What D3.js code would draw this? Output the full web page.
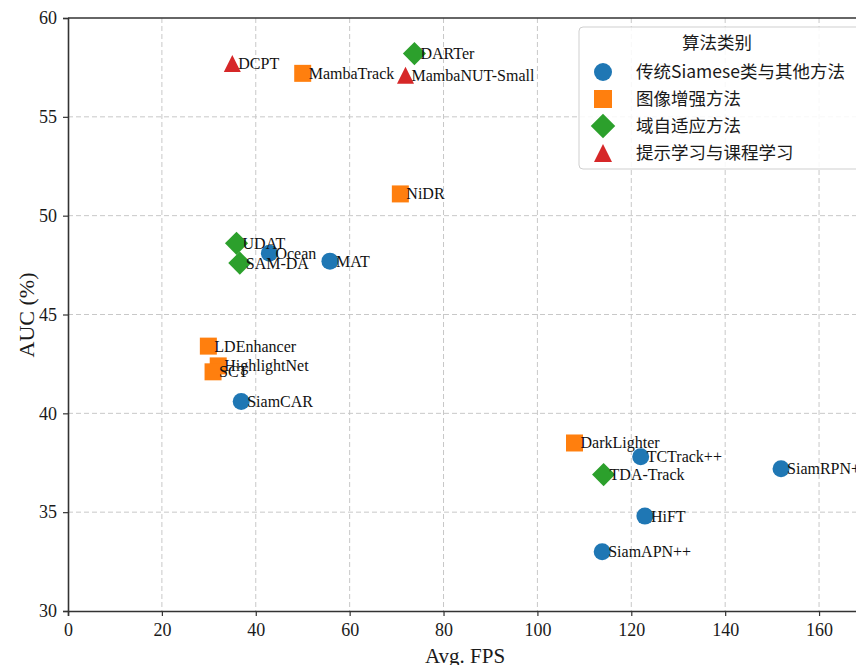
<!DOCTYPE html>
<html>
<head>
<meta charset="utf-8">
<script src="https://cdn.jsdelivr.net/npm/d3@7"></script>
<style>
  html, body { margin: 0; padding: 0; background: #fff; }
  svg { display: block; }
</style>
</head>
<body>
<div id="chart"></div>
<script>
// Tracker speed vs. accuracy, grouped by method family
const categories = ["传统Siamese类与其他方法", "图像增强方法", "域自适应方法", "提示学习与课程学习"];
const methodNames = ["DCPT", "MambaTrack", "DARTer", "MambaNUT-Small", "NiDR", "UDAT", "Ocean", "SAM-DA", "MAT",
  "LDEnhancer", "HighlightNet", "SCT", "SiamCAR", "DarkLighter", "TCTrack++", "TDA-Track", "SiamRPN++", "HiFT", "SiamAPN++"];
const methodGroup = [3, 1, 2, 3, 1, 2, 0, 2, 0, 1, 1, 1, 0, 1, 0, 2, 0, 0, 0];
const fpsValues = [35, 50, 73.8, 71.9, 70.8, 35.9, 42.9, 36.6, 55.8, 29.9, 32, 30.9, 36.9, 107.9, 122, 114.1, 151.9, 122.9, 113.8];
const aucValues = [57.7, 57.2, 58.2, 57.1, 51.1, 48.6, 48.1, 47.6, 47.7, 43.4, 42.4, 42.1, 40.6, 38.5, 37.8, 36.9, 37.2, 34.8, 33.0];
const xTicks = [0, 20, 40, 60, 80, 100, 120, 140, 160];
const yTicks = [30, 35, 40, 45, 50, 55, 60];
const groupColors = ["#1f77b4", "#ff7f0e", "#2ca02c", "#d62728"];
const groupShapes = ["circle", "square", "diamond", "triangle"];

const W = 856, H = 665;
const serif = "'Times New Roman', 'Liberation Serif', serif";
const cjk = "'Noto Sans CJK SC', 'Noto Sans', sans-serif";

const svg = d3.select("#chart").append("svg").attr("width", W).attr("height", H);

const x = d3.scaleLinear().domain([0, 170]).range([68, 866]);
const y = d3.scaleLinear().domain([30, 60]).range([611, 18]);

// marker outlines centred on the origin
function shapePath(shape, s) {
  const p = d3.path();
  const h = s / 2;
  if (shape === "circle") {
    p.arc(0, 0, h, 0, 2 * Math.PI);
  } else if (shape === "square") {
    p.rect(-h, -h, s, s);
  } else if (shape === "diamond") {
    const d = h * 1.36;
    p.moveTo(0, -d); p.lineTo(d, 0); p.lineTo(0, d); p.lineTo(-d, 0); p.closePath();
  } else {
    p.moveTo(0, -h); p.lineTo(h, h); p.lineTo(-h, h); p.closePath();
  }
  return p.toString();
}

// grid
const grid = svg.append("g").attr("stroke", "#c8c8c8").attr("stroke-width", 1).attr("stroke-dasharray", "5,3");
grid.selectAll("line.gx").data(xTicks.filter(t => t > 0)).join("line")
  .attr("x1", d => x(d)).attr("x2", d => x(d)).attr("y1", y(60)).attr("y2", y(30));
grid.selectAll("line.gy").data(yTicks.filter(t => t > 30 && t < 60)).join("line")
  .attr("x1", x(0)).attr("x2", W).attr("y1", d => y(d)).attr("y2", d => y(d));

// axes
const xAxis = svg.append("g").attr("transform", `translate(0,${y(30)})`)
  .call(d3.axisBottom(x).tickValues(xTicks).tickSize(5).tickPadding(7).tickFormat(d3.format("d")));
const yAxis = svg.append("g").attr("transform", `translate(${x(0)},0)`)
  .call(d3.axisLeft(y).tickValues(yTicks).tickSize(5).tickPadding(6).tickFormat(d3.format("d")));
[xAxis, yAxis].forEach(a => {
  a.select(".domain").attr("stroke", "#333").attr("stroke-width", 1.6);
  a.selectAll(".tick line").attr("stroke", "#333").attr("stroke-width", 1.2);
  a.selectAll(".tick text").attr("font-family", serif).attr("font-size", 18).attr("fill", "#1a1a1a");
});
// top spine
svg.append("line").attr("x1", x(0)).attr("x2", W).attr("y1", y(60)).attr("y2", y(60))
  .attr("stroke", "#333").attr("stroke-width", 1.6);

// axis titles
svg.append("text").attr("x", 465).attr("y", 663).attr("text-anchor", "middle")
  .attr("font-family", serif).attr("font-size", 21).attr("fill", "#1a1a1a").text("Avg. FPS");
svg.append("text").attr("transform", "translate(34,315) rotate(-90)").attr("text-anchor", "middle")
  .attr("font-family", serif).attr("font-size", 22).attr("fill", "#1a1a1a").text("AUC (%)");

// points, drawn one family at a time
const points = methodNames.map((name, i) => ({ name, g: methodGroup[i], fps: fpsValues[i], auc: aucValues[i] }));
categories.forEach((c, gi) => {
  svg.append("g").selectAll("path").data(points.filter(p => p.g === gi)).join("path")
    .attr("d", shapePath(groupShapes[gi], 17))
    .attr("transform", d => `translate(${x(d.fps)},${y(d.auc)})`)
    .attr("fill", groupColors[gi]);
});

// method labels
svg.append("g").selectAll("text").data(points).join("text")
  .attr("x", d => x(d.fps) + 6).attr("y", d => y(d.auc) + 5.5)
  .attr("font-family", serif).attr("font-size", 16).attr("fill", "#111")
  .text(d => d.name);

// legend
const lg = svg.append("g");
lg.append("rect").attr("x", 579).attr("y", 27).attr("width", 300).attr("height", 142).attr("rx", 4)
  .attr("fill", "#fff").attr("fill-opacity", 0.85).attr("stroke", "#cfcfcf").attr("stroke-width", 1);
lg.append("text").attr("x", 717).attr("y", 49).attr("text-anchor", "middle")
  .attr("font-family", cjk).attr("font-size", 17.5).attr("fill", "#1a1a1a").text("算法类别");
const rows = lg.selectAll("g.row").data(categories).join("g")
  .attr("transform", (d, i) => `translate(603,${72 + i * 27})`);
rows.append("path").attr("d", (d, i) => shapePath(groupShapes[i], 18)).attr("fill", (d, i) => groupColors[i]);
rows.append("text").attr("x", 33).attr("y", 6).attr("font-family", cjk).attr("font-size", 17.5)
  .attr("fill", "#1a1a1a").text(d => d);
</script>
</body>
</html>
